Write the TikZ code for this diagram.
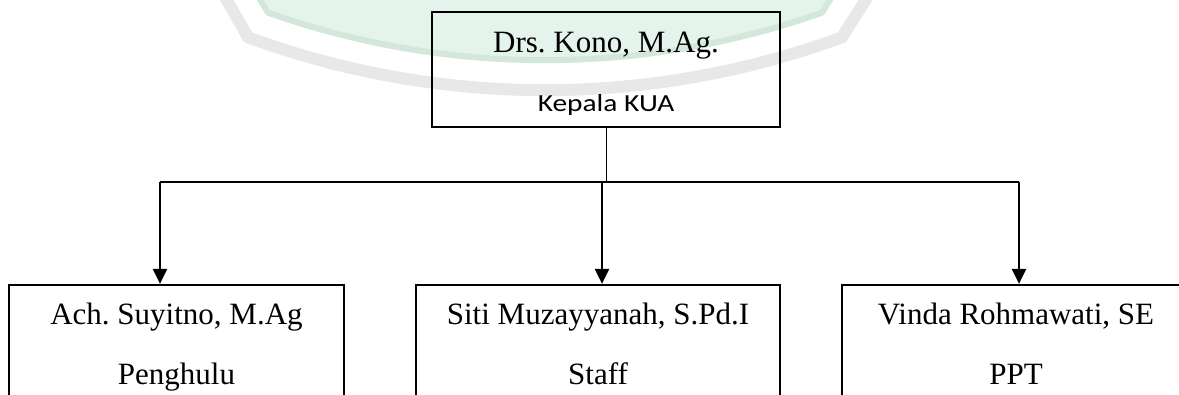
\documentclass[tikz,border=0pt]{standalone}
\usepackage{fontspec}
\usepackage{xcolor}
\usepackage{tikz}
\usetikzlibrary{arrows.meta,calc}
\newfontfamily\namefont{Liberation Serif}
\newfontfamily\kuafont[FakeStretch=1.2]{Carlito}
\definecolor{MarkGreen}{HTML}{E4F3EB}
\definecolor{MarkEdge}{HTML}{D3E7DB}
\definecolor{MarkGray}{HTML}{E8E8E8}
\frenchspacing

\begin{document}
\begin{tikzpicture}[
  x=1pt, y=-1pt,
  box/.style={draw=black, line width=2.2pt, minimum height=135pt, inner sep=0pt},
  headbox/.style={box, minimum width=348pt, minimum height=115pt},
  person/.style={inner sep=0pt, anchor=base, font=\namefont\fontsize{31}{37}\selectfont},
  duty/.style={person},
  headduty/.style={inner sep=0pt, anchor=base, font=\kuafont\fontsize{24.5}{29}\selectfont},
  bus/.style={line width=1.5pt, draw=black},
  stem/.style={line width=0.9pt, draw=black},
  arrow/.style={-{Triangle[width=14pt,length=15pt]}, line width=2.5pt, draw=black}
]
\useasboundingbox (0,0) rectangle (1179,395);
\clip (0,0) rectangle (1179,395);

% watermark in the background
\coordinate (mark) at (545,-769.8);
\fill[MarkGreen] (252,-10) -- ($(mark)+(109.5:833)$) arc[start angle=109.5, end angle=70.5, radius=833] -- (838,-10) -- cycle;
\draw[MarkEdge, line width=6pt] (254,-10) -- ($(mark)+(109.5:830)$) arc[start angle=109.5, end angle=70.5, radius=830] -- (836,-10);
\draw[MarkGray, line width=12pt] (221,-10) -- ($(mark)+(110.2:860)$) arc[start angle=110.2, end angle=69.8, radius=860] -- (872,-10);

% head of the office
\node[headbox] (kepala) at (606,69.5) {};
\node[person] (kononame) at (606,53) {Drs. Kono, M.Ag.};
\node[headduty] (konoduty) at (606,111.5) {Kepala KUA};

% staff boxes
\node[box, minimum width=335pt] (penghulu) at (176.5,352.5) {};
\node[box, minimum width=364pt] (staff) at (598,352.5) {};
\node[box, minimum width=348pt] (ppt) at (1016,352.5) {};
\node[person] (suyitno) at (176.5,325) {Ach. Suyitno, M.Ag};
\node[duty] (suyitnoduty) at (176.5,385) {Penghulu};
\node[person] (siti) at (598,325) {Siti Muzayyanah, S.Pd.I};
\node[duty] (sitiduty) at (598,385) {Staff};
\node[person] (vinda) at (1016,325) {Vinda Rohmawati, SE};
\node[duty] (vindaduty) at (1016,385) {PPT};

\coordinate (busL) at (160,182);
\coordinate (busM) at (602,182);
\coordinate (busR) at (1019,182);

\draw[stem] (kepala.south) -- (kepala.south |- busM);
\draw[bus] (busL) -- (busR);
\draw[arrow] (busL) -- (busL |- penghulu.north);
\draw[arrow] (busM) -- (busM |- staff.north);
\draw[arrow] (busR) -- (busR |- ppt.north);
\end{tikzpicture}
\end{document}
